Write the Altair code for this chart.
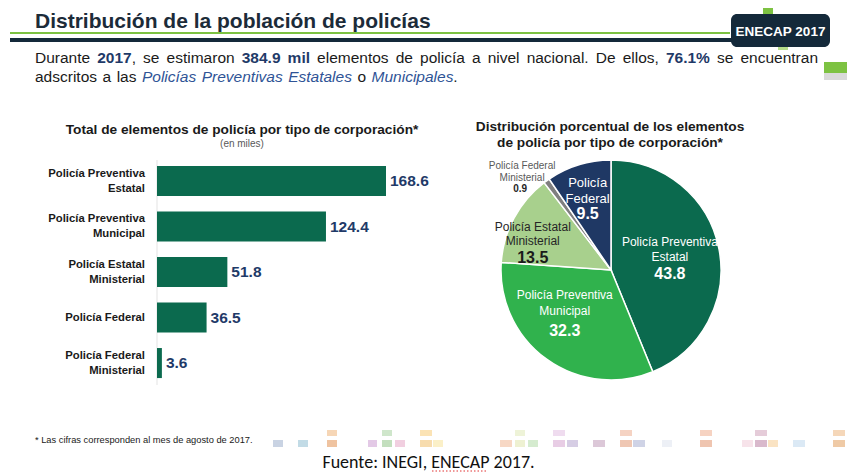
import altair as alt
import pandas as pd

# ---------------- data ----------------
bar_categories = [
    "Policía Preventiva Estatal",
    "Policía Preventiva Municipal",
    "Policía Estatal Ministerial",
    "Policía Federal",
    "Policía Federal Ministerial",
]
bar_labels = [
    "Policía Preventiva|Estatal",
    "Policía Preventiva|Municipal",
    "Policía Estatal|Ministerial",
    "Policía Federal",
    "Policía Federal|Ministerial",
]
bar_values = [168.6, 124.4, 51.8, 36.5, 3.6]

pie_categories = [
    "Policía Preventiva Estatal",
    "Policía Preventiva Municipal",
    "Policía Estatal Ministerial",
    "Policía Federal Ministerial",
    "Policía Federal",
]
pie_names = [
    "Policía Preventiva|Estatal",
    "Policía Preventiva|Municipal",
    "Policía Estatal|Ministerial",
    "Policía Federal|Ministerial",
    "Policía|Federal",
]
pie_values = [43.8, 32.3, 13.5, 0.9, 9.5]
pie_colors = ["#0b6a4e", "#30b24d", "#a8d08d", "#7f7f7f", "#1f3864"]

# subtitle text (word runs: text, style)
subtitle_line1 = [
    [("Durante", "n")], [("2017", "b"), (",", "n")], [("se", "n")], [("estimaron", "n")],
    [("384.9", "b")], [("mil", "b")], [("elementos", "n")], [("de", "n")],
    [("policía", "n")], [("a", "n")], [("nivel", "n")], [("nacional.", "n")],
    [("De", "n")], [("ellos,", "n")], [("76.1%", "b")], [("se", "n")], [("encuentran", "n")],
]
subtitle_line2 = [
    [("adscritos", "n")], [("a", "n")], [("las", "n")], [("Policías", "i")],
    [("Preventivas", "i")], [("Estatales", "i")], [("o", "n")], [("Municipales", "i"), (".", "n")],
]

# ---------------- styles ----------------
FONT = "Liberation Sans, Arial, sans-serif"
DARK = "#1c2b39"
NAVY = "#1f3a68"
BLUE = "#2f5496"
BAR_GREEN = "#0b6a4e"
TXT = "#1a1a1a"

# Arial / Liberation Sans advance widths (1/1000 em) for justification
ARIAL_R = {" ": 278, ",": 278, ".": 278, "%": 889, "a": 556, "b": 556, "c": 500, "d": 556,
           "e": 556, "f": 278, "g": 556, "h": 556, "i": 222, "j": 222, "k": 500, "l": 222,
           "m": 833, "n": 556, "o": 556, "p": 556, "q": 556, "r": 333, "s": 500, "t": 278,
           "u": 556, "v": 500, "w": 722, "x": 500, "y": 500, "z": 500, "í": 278, "ó": 556,
           "D": 722, "E": 667, "M": 833, "P": 667}
ARIAL_B = {"m": 889, "i": 278, "l": 278, "%": 889}
for d in "0123456789":
    ARIAL_R[d] = 556
    ARIAL_B[d] = 556


def text_width(s, style, size):
    tbl = ARIAL_B if style == "b" else ARIAL_R
    return sum(tbl.get(ch, ARIAL_R.get(ch, 556)) for ch in s) * size / 1000.0


def txt(text, x, y, size=15, weight="normal", style="normal", color=TXT,
        align="left", font=FONT, baseline="alphabetic", line_height=None):
    kw = dict(align=align, baseline=baseline, fontSize=size, fontWeight=weight,
              fontStyle=style, color=color, font=font, lineBreak="|")
    if line_height:
        kw["lineHeight"] = line_height
    return alt.Chart(pd.DataFrame({"t": [text]})).mark_text(**kw).encode(
        x=alt.value(x), y=alt.value(y), text="t:N")


def rule(x0, x1, y, color, width, dash=None):
    kw = dict(color=color, strokeWidth=width)
    if dash:
        kw["strokeDash"] = dash
    return alt.Chart(pd.DataFrame({"a": [0]})).mark_rule(**kw).encode(
        x=alt.value(x0), x2=alt.value(x1), y=alt.value(y))


def vrule(x, y0, y1, color, width):
    return alt.Chart(pd.DataFrame({"a": [0]})).mark_rule(color=color, strokeWidth=width).encode(
        x=alt.value(x), y=alt.value(y0), y2=alt.value(y1))


def box(x0, x1, y0, y1, color, radius=0):
    return alt.Chart(pd.DataFrame({"a": [0]})).mark_rect(color=color, cornerRadius=radius).encode(
        x=alt.value(x0), x2=alt.value(x1), y=alt.value(y0), y2=alt.value(y1))


RUN_STYLE = {
    "n": dict(weight="normal", style="normal", color=TXT),
    "b": dict(weight="bold", style="normal", color=NAVY),
    "i": dict(weight="normal", style="italic", color=BLUE),
}


def text_line(words, x0, y, size, target_width=None, gap=None):
    widths = [sum(text_width(t, s, size) for t, s in w) for w in words]
    if target_width:
        gap = (target_width - sum(widths)) / (len(words) - 1)
    elif gap is None:
        gap = 278 * size / 1000.0
    out = []
    x = x0
    for w, wd in zip(words, widths):
        xx = x
        for t, s in w:
            out.append(txt(t, xx, y, size=size, **RUN_STYLE[s]))
            xx += text_width(t, s, size)
        x += wd + gap
    return out


layers = []

# ---------------- header ----------------
layers.append(txt("Distribución de la población de policías", 27, 20, size=21, weight="bold", color=DARK))
layers.append(rule(2, 722, 25, "#7dc242", 2))
layers.append(rule(2, 724, 32, "#14293a", 4))
layers.append(box(755, 765, 0, 6, "#7dc242"))
layers.append(box(770, 780, 39, 42, "#b5dc8a"))
layers.append(box(723, 822, 6, 39, "#14293a", radius=6))
layers.append(txt("ENECAP 2017", 772.5, 27.5, size=13.5, weight="bold", color="white", align="center"))
layers.append(box(816, 839, 54, 65, "#7dc242"))
layers.append(box(816, 839, 65, 72, "#d9d9d9"))

SUB = 15.5
layers += text_line(subtitle_line1, 27, 55, SUB, target_width=783)
layers += text_line(subtitle_line2, 27, 74, SUB, gap=5.5)

# ---------------- bar chart ----------------
layers.append(txt("Total de elementos de policía por tipo de corporación*", 234, 126, size=13.7,
                  weight="bold", color=TXT, align="center"))
layers.append(txt("(en miles)", 234, 139, size=10, color="#595959", align="center"))
layers.append(vrule(149, 152, 377, "#e3e3e3", 1))

bar_df = pd.DataFrame({"cat": bar_categories, "val": bar_values, "lab": bar_labels})
yenc = alt.Y("cat:N", sort=bar_categories, axis=None,
             scale=alt.Scale(range=[150.3, 377.8], paddingInner=0.34, paddingOuter=0.17))
xenc = alt.X("val:Q", axis=None,
             scale=alt.Scale(domain=[0, 168.6], range=[149, 378], nice=False, zero=True))

layers.append(alt.Chart(bar_df).mark_bar(color=BAR_GREEN).encode(x=xenc, y=yenc))
layers.append(alt.Chart(bar_df).mark_text(align="left", baseline="middle", dx=4, fontSize=15.5,
                                          fontWeight="bold", color=NAVY, font=FONT).encode(
    x=xenc, y=yenc, text=alt.Text("val:Q", format=".1f")))
for cond, dy in (("indexof(datum.lab, '|') >= 0", -7.5), ("indexof(datum.lab, '|') < 0", 0)):
    layers.append(alt.Chart(bar_df).transform_filter(cond).mark_text(
        align="right", baseline="middle", lineBreak="|", fontSize=11.3, fontWeight="bold",
        color=TXT, font=FONT, lineHeight=15, dy=dy).encode(
        x=alt.value(137), y=yenc, text="lab:N"))

# ---------------- pie chart ----------------
layers.append(txt("Distribución porcentual de los elementos|de policía por tipo de corporación*",
                  602, 123, size=13.7, weight="bold", color=TXT, align="center", line_height=16))

CX, CY, R = 603, 262, 110
pie_df = pd.DataFrame({"cat": pie_categories, "name": pie_names, "pct": pie_values,
                       "ord": list(range(len(pie_values)))})


def pie_base():
    return (alt.Chart(pie_df)
            .transform_window(cum="sum(pct)", sort=[alt.SortField("ord")], frame=[None, 0])
            .transform_calculate(start="datum.cum - datum.pct",
                                 mid="datum.cum - datum.pct / 2",
                                 end="datum.cum"))


theta_scale = alt.Scale(domain=[0, 100], range=[0, 6.283185307179586])
layers.append(pie_base().mark_arc(stroke="white", strokeWidth=1.5).encode(
    theta=alt.Theta("start:Q", scale=theta_scale),
    theta2="end:Q",
    color=alt.Color("cat:N", scale=alt.Scale(domain=pie_categories, range=pie_colors), legend=None),
    x=alt.value(CX), y=alt.value(CY), radius=alt.value(R),
))

# per-slice label styling: radius, dx, name dy, number dy, sizes, colours
label_style = [
    dict(r=58, dx=2, ndy=-13, vdy=20, ns=12, vs=16, nc="white", vc="white", lh=15, vdx=0),
    dict(r=62, dx=-10, ndy=-21, vdy=16, ns=12, vs=16, nc="white", vc="white", lh=16, vdx=0),
    dict(r=82, dx=-6, ndy=0, vdy=32, ns=12, vs=16, nc="#262626", vc="#1a1a1a", lh=14, vdx=0),
    dict(r=128, dx=-14, ndy=3, vdy=26, ns=10, vs=10, nc="#595959", vc="#262626", lh=12, vdx=-2),
    dict(r=76, dx=-1, ndy=-10, vdy=22, ns=13, vs=16, nc="white", vc="white", lh=16, vdx=0),
]
for i, st in enumerate(label_style):
    base = pie_base().transform_filter(alt.datum.ord == i)
    layers.append(base.mark_text(align="center", baseline="alphabetic", lineBreak="|",
                                 fontSize=st["ns"], color=st["nc"], font=FONT,
                                 lineHeight=st["lh"], dx=st["dx"], dy=st["ndy"]).encode(
        theta=alt.Theta("mid:Q", scale=theta_scale),
        radius=alt.value(st["r"]), x=alt.value(CX), y=alt.value(CY), text="name:N"))
    layers.append(base.mark_text(align="center", baseline="alphabetic", fontSize=st["vs"],
                                 fontWeight="bold", color=st["vc"], font=FONT,
                                 dx=st["dx"] + st["vdx"], dy=st["vdy"]).encode(
        theta=alt.Theta("mid:Q", scale=theta_scale),
        radius=alt.value(st["r"]), x=alt.value(CX), y=alt.value(CY),
        text=alt.Text("pct:Q", format=".1f")))

# ---------------- footer ----------------
layers.append(txt("* Las cifras corresponden al mes de agosto de 2017.", 27, 435, size=9.3, color=TXT))

deco = [
    (273, 283, None, "#c9d3e3"), (298, 308, None, "#c2dbe6"),
    (327, 337, "#f6d6b6", "#efc3a0"), (368, 377, None, "#e3c9e6"),
    (382, 392, "#cfe6cb", "#c3dfbe"), (395, 405, None, "#f1cfe0"),
    (420, 432, "#fbe3b5", "#f7dcae"), (433, 443, None, "#fbf0c8"),
    (500, 512, None, "#f7d8c5"), (515, 525, "#eef3d8", "#eef1d2"),
    (528, 538, None, "#d5ebcf"), (553, 565, "#efdcef", "#e8cde5"),
    (567, 578, None, "#d6cde4"), (593, 605, None, "#dcc8d8"),
    (620, 632, "#f5d3c3", "#efc7b3"), (633, 645, None, "#cfd3e6"),
    (662, 672, None, "#edf0f6"), (700, 712, "#f6d3c2", "#efc5b0"),
    (742, 753, None, "#f7e3ea"), (755, 767, "#e5ccd9", "#d9b9cc"),
    (768, 778, None, "#fae3c3"), (793, 805, None, "#dbe9f5"),
    (833, 845, "#f5d7b9", "#efcaa6"),
]
for x0, x1, up, low in deco:
    if up:
        layers.append(box(x0 - 8, x1 - 8, 422, 428, up))
    layers.append(box(x0 - 8, x1 - 8, 432, 439, low))

layers.append(txt("Fuente: INEGI, ENECAP 2017.", 420.5, 460, size=18, color="#111111",
                  align="center", font="Carlito, Calibri, Open Sans, Noto Sans, sans-serif"))
layers.append(rule(424, 480, 463, "#e03030", 1, dash=[1.5, 2]))

chart = alt.layer(*layers).properties(
    width=840, height=465, padding=0,
    autosize=alt.AutoSizeParams(type="none"),
    background="white",
).configure_view(stroke=None)

chart.save("out.html", embed_options={"renderer": "svg", "actions": False})
